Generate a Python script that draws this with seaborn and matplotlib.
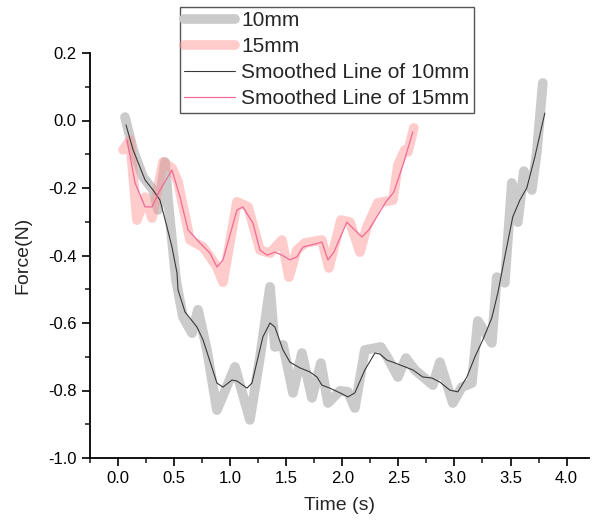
import matplotlib
matplotlib.use("Agg")
import matplotlib.pyplot as plt
import seaborn as sns
import pandas as pd
from matplotlib.ticker import MultipleLocator

# ---- data ----
t10 = [0.062, 0.134, 0.223, 0.312, 0.357, 0.419, 0.446, 0.481, 0.517, 0.579, 0.660, 0.713,
       0.793, 0.882, 1.043, 1.176, 1.266, 1.355, 1.399, 1.471, 1.560, 1.640, 1.729, 1.809,
       1.872, 1.979, 2.050, 2.112, 2.201, 2.344, 2.406, 2.496, 2.567, 2.647, 2.807, 2.870,
       2.986, 3.066, 3.155, 3.209, 3.333, 3.378, 3.449, 3.512, 3.565, 3.619, 3.690, 3.734, 3.788]
f10 = [0.010, -0.087, -0.167, -0.206, -0.265, -0.123, -0.236, -0.354, -0.473, -0.582, -0.630, -0.561,
       -0.680, -0.858, -0.730, -0.887, -0.701, -0.493, -0.671, -0.665, -0.807, -0.689, -0.822, -0.719,
       -0.837, -0.801, -0.804, -0.852, -0.680, -0.671, -0.704, -0.760, -0.704, -0.739, -0.784, -0.716,
       -0.837, -0.790, -0.778, -0.594, -0.659, -0.464, -0.481, -0.185, -0.301, -0.150, -0.206, -0.096, 0.111]

ts10 = [0.071, 0.134, 0.241, 0.312, 0.374, 0.437, 0.481, 0.526, 0.535, 0.597, 0.704, 0.758,
        0.882, 0.936, 1.016, 1.061, 1.150, 1.194, 1.292, 1.355, 1.399, 1.471, 1.533, 1.622,
        1.711, 1.774, 1.818, 1.889, 1.979, 2.050, 2.112, 2.201, 2.291, 2.335, 2.398, 2.451,
        2.513, 2.629, 2.718, 2.799, 2.870, 2.959, 3.030, 3.111, 3.182, 3.253, 3.333, 3.387,
        3.449, 3.520, 3.583, 3.645, 3.717, 3.806]
fs10 = [-0.013, -0.087, -0.176, -0.206, -0.236, -0.316, -0.375, -0.452, -0.502, -0.567, -0.612, -0.650,
        -0.778, -0.790, -0.769, -0.772, -0.793, -0.778, -0.641, -0.600, -0.612, -0.680, -0.716, -0.733,
        -0.745, -0.760, -0.784, -0.793, -0.807, -0.819, -0.807, -0.739, -0.689, -0.692, -0.710, -0.716,
        -0.724, -0.739, -0.760, -0.763, -0.775, -0.799, -0.804, -0.760, -0.701, -0.650, -0.585, -0.511,
        -0.404, -0.286, -0.236, -0.200, -0.108, 0.022]

t15 = [0.045, 0.107, 0.169, 0.241, 0.303, 0.401, 0.481, 0.535, 0.642, 0.758, 0.820, 0.882,
       0.936, 1.061, 1.159, 1.266, 1.355, 1.462, 1.524, 1.595, 1.667, 1.818, 1.881, 1.988,
       2.068, 2.157, 2.219, 2.317, 2.451, 2.496, 2.558, 2.585, 2.638]
f15 = [-0.087, -0.058, -0.295, -0.227, -0.289, -0.123, -0.141, -0.182, -0.354, -0.375, -0.404, -0.434,
       -0.479, -0.241, -0.256, -0.384, -0.393, -0.354, -0.464, -0.384, -0.363, -0.354, -0.437, -0.295,
       -0.301, -0.390, -0.316, -0.244, -0.236, -0.132, -0.087, -0.093, -0.022]

ts15 = [0.080, 0.152, 0.241, 0.303, 0.374, 0.481, 0.553, 0.624, 0.731, 0.820, 0.882, 0.936,
        1.061, 1.114, 1.203, 1.266, 1.328, 1.399, 1.462, 1.533, 1.595, 1.649, 1.756, 1.818,
        1.872, 1.925, 2.041, 2.094, 2.175, 2.237, 2.389, 2.460, 2.549, 2.629]
fs15 = [-0.058, -0.185, -0.256, -0.256, -0.206, -0.147, -0.227, -0.324, -0.363, -0.393, -0.434, -0.413,
        -0.265, -0.256, -0.304, -0.384, -0.399, -0.390, -0.399, -0.413, -0.404, -0.375, -0.366, -0.360,
        -0.413, -0.390, -0.301, -0.319, -0.345, -0.324, -0.241, -0.212, -0.123, -0.034]

labels = ["10mm", "15mm", "Smoothed Line of 10mm", "Smoothed Line of 15mm"]
xticks = [0.0, 0.5, 1.0, 1.5, 2.0, 2.5, 3.0, 3.5, 4.0]
yticks = [-1.0, -0.8, -0.6, -0.4, -0.2, 0.0, 0.2]

sns.set_style("ticks")
plt.rcParams["font.family"] = ["Liberation Sans", "DejaVu Sans"]

fig = plt.figure(figsize=(5.93, 5.27), dpi=100)
ax = fig.add_axes([90 / 593, 1 - 458 / 527, 499 / 593, 405 / 527])

d10 = pd.DataFrame({"t": t10, "f": f10})
d15 = pd.DataFrame({"t": t15, "f": f15})
s10 = pd.DataFrame({"t": ts10, "f": fs10})
s15 = pd.DataFrame({"t": ts15, "f": fs15})

sns.lineplot(data=d10, x="t", y="f", ax=ax, color="#cbcbcb", lw=7, sort=False,
             estimator=None, label=labels[0], solid_capstyle="round", solid_joinstyle="round")
sns.lineplot(data=d15, x="t", y="f", ax=ax, color="#ff9494", alpha=0.48, lw=7, sort=False,
             estimator=None, label=labels[1], solid_capstyle="round", solid_joinstyle="round")
sns.lineplot(data=s10, x="t", y="f", ax=ax, color="#3a3a3a", lw=0.8, sort=False,
             estimator=None, label=labels[2])
sns.lineplot(data=s15, x="t", y="f", ax=ax, color="#f06a95", lw=0.9, sort=False,
             estimator=None, label=labels[3])

ax.set_xlim(-0.25, 4.2)
ax.set_ylim(-1.0, 0.2)
ax.set_xticks(xticks)
ax.set_yticks(yticks)
ax.set_xticklabels([f"{v:.1f}" for v in xticks])
ax.set_yticklabels([f"{v:.1f}" for v in yticks])
ax.xaxis.set_minor_locator(MultipleLocator(0.25))
ax.yaxis.set_minor_locator(MultipleLocator(0.1))
ax.tick_params(which="major", direction="out", length=6, width=1.2, labelsize=12, colors="black")
ax.tick_params(which="minor", direction="out", length=3.5, width=1.2)
for s in ["top", "right"]:
    ax.spines[s].set_visible(False)
for s in ["left", "bottom"]:
    ax.spines[s].set_linewidth(1.3)
    ax.spines[s].set_color("black")

ax.set_xlabel("Time (s)", fontsize=14, labelpad=8)
ax.set_ylabel("Force(N)", fontsize=14, labelpad=12)

leg = ax.legend(loc="upper left", bbox_to_anchor=(180 / 593, 1 - 7 / 527),
                bbox_transform=fig.transFigure, borderaxespad=0, fontsize=15,
                frameon=True, fancybox=False, edgecolor="#555555", framealpha=1,
                handlelength=2.45, handletextpad=0.3, labelspacing=0.34, borderpad=0.2)
leg.get_frame().set_linewidth(1.0)
for lh, w in zip(leg.get_lines(), [7, 7, 0.8, 0.9]):
    lh.set_linewidth(w)

fig.savefig("out.png", dpi=100)
